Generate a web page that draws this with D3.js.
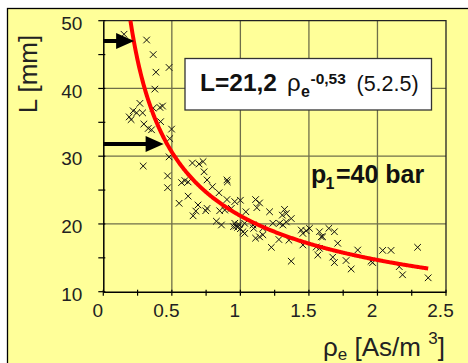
<!DOCTYPE html>
<html><head><meta charset="utf-8">
<script src="https://cdn.jsdelivr.net/npm/d3@7"></script>
<style>
html,body{margin:0;padding:0;background:#fff;}
svg{display:block;font-family:"Liberation Sans",Arial,sans-serif;}
</style></head>
<body>
<svg id="chart" width="468" height="363"></svg>
<script>
// ---- data ----
const rho = [
 0.151,0.316,0.364,0.48,0.384,0.376,0.267,0.218,0.189,0.243,0.287,0.203,0.364,0.413,0.432,
 0.296,0.328,0.418,0.498,0.352,0.485,
 0.291,0.48,0.469,0.469,0.553,0.619,0.571,0.595,0.619,0.65,0.699,0.728,0.735,0.757,0.796,
 0.902,0.905,0.691,0.675,0.655,0.757,0.747,0.844,0.902,0.849,0.886,0.825,0.862,0.934,0.959,
 1.0,0.959,0.97,0.98,0.99,0.95,1.0,1.031,1.04,
 1.111,1.14,1.12,1.213,1.322,1.335,1.306,1.031,1.092,1.097,1.164,1.111,1.14,1.164,1.226,
 1.281,1.354,1.237,1.286,1.31,1.335,1.371,1.371,1.444,1.456,1.48,1.504,1.456,1.577,1.59,
 1.645,1.686,1.71,1.577,1.565,1.674,1.686,1.771,1.808,1.019,1.856,1.953,1.965,2.038,2.099,
 2.159,2.183,2.293,2.37,1.553,1.6
];
const lengthMM = [
 48.0,47.15,45.0,43.1,42.4,39.9,37.8,36.7,35.8,36.4,36.4,35.4,37.1,37.2,37.4,
 34.75,34.1,35.1,34.0,33.9,32.6,
 28.55,29.9,27.1,25.35,23.05,24.1,26.1,26.4,26.2,29.0,28.85,29.2,27.7,26.5,25.5,
 26.5,26.2,22.8,21.9,21.2,22.3,21.95,24.6,23.6,21.95,22.05,20.4,19.85,22.3,23.3,
 23.5,20.1,19.7,19.5,19.9,19.6,19.3,18.6,21.8,
 23.6,23.1,22.4,21.8,22.15,21.55,21.3,20.1,19.85,19.35,19.35,17.9,18.1,18.4,16.55,
 17.7,17.6,20.1,20.1,19.85,20.3,20.8,14.5,19.1,18.6,19.0,19.35,16.9,18.85,18.1,
 19.35,18.85,17.15,16.4,15.4,15.1,14.3,14.6,13.35,18.85,16.15,14.5,14.3,16.1,16.1,
 13.7,12.5,16.55,12.05,16.6,18.1
];
const xTicks = [0, 0.5, 1, 1.5, 2, 2.5];
const xMinorTicks = [0.25, 0.75, 1.25, 1.75, 2.25];
const yTicks = [10, 20, 30, 40, 50];
const yMinorTicks = [15, 25, 35, 45];
const fitA = 21.2, fitB = -0.53;          // L = 21.2 * rho^-0.53
const fitRange = [0.198, 2.37];
const arrowLevels = [47.0, 31.8];          // L values marked by arrows
const arrowTips = [0.225, 0.44];

// ---- layout ----
const svg = d3.select("#chart");
const x = d3.scaleLinear().domain([0, 2.5]).range([103.3, 446]);
const y = d3.scaleLinear().domain([10, 50]).range([291.7, 20.7]);
const font = '"Liberation Sans",Arial,sans-serif';

// background panel
svg.append("rect").attr("x", 7.5).attr("y", 8.5).attr("width", 470).attr("height", 370)
  .attr("fill", "#FFFF99").attr("stroke", "#000").attr("stroke-width", 1.3);

// grid
const g = svg.append("g");
g.selectAll(".vg").data(xTicks.slice(1, -1)).join("line")
  .attr("x1", d => x(d)).attr("x2", d => x(d)).attr("y1", y(50)).attr("y2", y(10))
  .attr("stroke", "#6f6f4a").attr("stroke-width", 1.3);
g.selectAll(".hg").data(yTicks.slice(1, -1)).join("line")
  .attr("x1", x(0)).attr("x2", x(2.5)).attr("y1", d => y(d)).attr("y2", d => y(d))
  .attr("stroke", "#6f6f4a").attr("stroke-width", 1.3);
// frame top/right
g.append("path").attr("d", `M${x(0)},${y(50)}H${x(2.5)}V${y(10)}`)
  .attr("fill", "none").attr("stroke", "#222").attr("stroke-width", 1.3);

// axes
const xAxis = d3.axisBottom(x).tickValues(xTicks).tickSize(0).tickFormat(d3.format("~g"));
const gx = svg.append("g").attr("transform", `translate(0,${y(10)})`).call(xAxis);
gx.select(".domain").attr("stroke", "#000").attr("stroke-width", 1.5);
gx.selectAll("text").attr("font-family", font).attr("font-size", 19).attr("fill", "#222")
  .attr("dy", 0).attr("y", 25).attr("dx", -6);
const yAxis = d3.axisLeft(y).tickValues(yTicks).tickSize(0);
const gy = svg.append("g").attr("transform", `translate(${x(0)},0)`).call(yAxis);
gy.select(".domain").attr("stroke", "#000").attr("stroke-width", 1.5);
gy.selectAll("text").attr("font-family", font).attr("font-size", 19).attr("fill", "#222")
  .attr("x", -21).attr("dy", "0.45em");
// tick marks
svg.selectAll(".xt").data(xTicks.concat(xMinorTicks)).join("line")
  .attr("x1", d => x(d)).attr("x2", d => x(d)).attr("y1", y(10) - 2).attr("y2", y(10) + 4)
  .attr("stroke", "#000").attr("stroke-width", 1.2);
svg.selectAll(".yt").data(yTicks.concat(yMinorTicks)).join("line")
  .attr("x1", x(0) - 5).attr("x2", x(0) + 2).attr("y1", d => y(d)).attr("y2", d => y(d))
  .attr("stroke", "#000").attr("stroke-width", 1.2);

// scatter markers (x shapes)
const pts = rho.map((r, i) => [r, lengthMM[i]]);
const s = 3.3;
svg.append("g").selectAll("path").data(pts).join("path")
  .attr("d", d => { const cx = x(d[0]), cy = y(d[1]);
    return `M${cx - s},${cy - s}L${cx + s},${cy + s}M${cx - s},${cy + s}L${cx + s},${cy - s}`; })
  .attr("stroke", "#111").attr("stroke-width", 1).attr("fill", "none");

// fit curve
const curveX = d3.range(fitRange[0], fitRange[1], 0.005).concat([fitRange[1]]);
svg.append("path").datum(curveX)
  .attr("d", d3.line().x(d => x(d)).y(d => y(fitA * Math.pow(d, fitB))))
  .attr("fill", "none").attr("stroke", "#FF0000").attr("stroke-width", 4);

// arrows
arrowLevels.forEach((lv, i) => {
  const yy = y(lv), x0 = x(0), tip = x(arrowTips[i]);
  svg.append("line").attr("x1", x0).attr("x2", tip - 14).attr("y1", yy).attr("y2", yy)
    .attr("stroke", "#000").attr("stroke-width", 4);
  svg.append("path").attr("d", `M${tip},${yy}L${tip - 18},${yy - 8}L${tip - 18},${yy + 8}Z`)
    .attr("fill", "#000");
});

// equation box
svg.append("rect").attr("x", 185).attr("y", 58.5).attr("width", 246.5).attr("height", 51.5)
  .attr("fill", "#fff").attr("stroke", "#333").attr("stroke-width", 1.3);
const eq = svg.append("g").attr("font-family", font).attr("fill", "#111");
eq.append("text").attr("x", 200).attr("y", 91).attr("font-size", 24.5).attr("font-weight", "bold").text("L=21,2");
eq.append("text").attr("x", 287).attr("y", 91).attr("font-size", 24).text("ρ");
eq.append("text").attr("x", 301).attr("y", 97).attr("font-size", 16).attr("font-weight", "bold").text("e");
eq.append("text").attr("x", 310.5).attr("y", 83.5).attr("font-size", 15.5).attr("font-weight", "bold").text("-0,53");
eq.append("text").attr("x", 356.5).attr("y", 91).attr("font-size", 21.5).text("(5.2.5)");

// pressure annotation
const pa = svg.append("g").attr("font-family", font).attr("fill", "#111").attr("font-weight", "bold");
pa.append("text").attr("x", 311).attr("y", 183.3).attr("font-size", 25).text("p");
pa.append("text").attr("x", 325.5).attr("y", 189).attr("font-size", 16).text("1");
pa.append("text").attr("x", 336).attr("y", 183.3).attr("font-size", 25).text("=40 bar");

// axis titles
const xl = svg.append("text").attr("x", 323).attr("y", 356).attr("font-family", font)
  .attr("font-size", 26).attr("fill", "#222");
xl.append("tspan").text("ρ");
xl.append("tspan").attr("font-size", 17).attr("dy", 4).text("e");
xl.append("tspan").attr("dy", -4).text(" [As/m ");
xl.append("tspan").attr("font-size", 17).attr("dy", -12).text("3");
xl.append("tspan").attr("dy", 12).text("]");

svg.append("text").attr("transform", "translate(37,74) rotate(-90)")
  .attr("text-anchor", "middle").attr("font-family", font).attr("font-size", 26)
  .attr("fill", "#222").text("L [mm]");
</script>
</body></html>
